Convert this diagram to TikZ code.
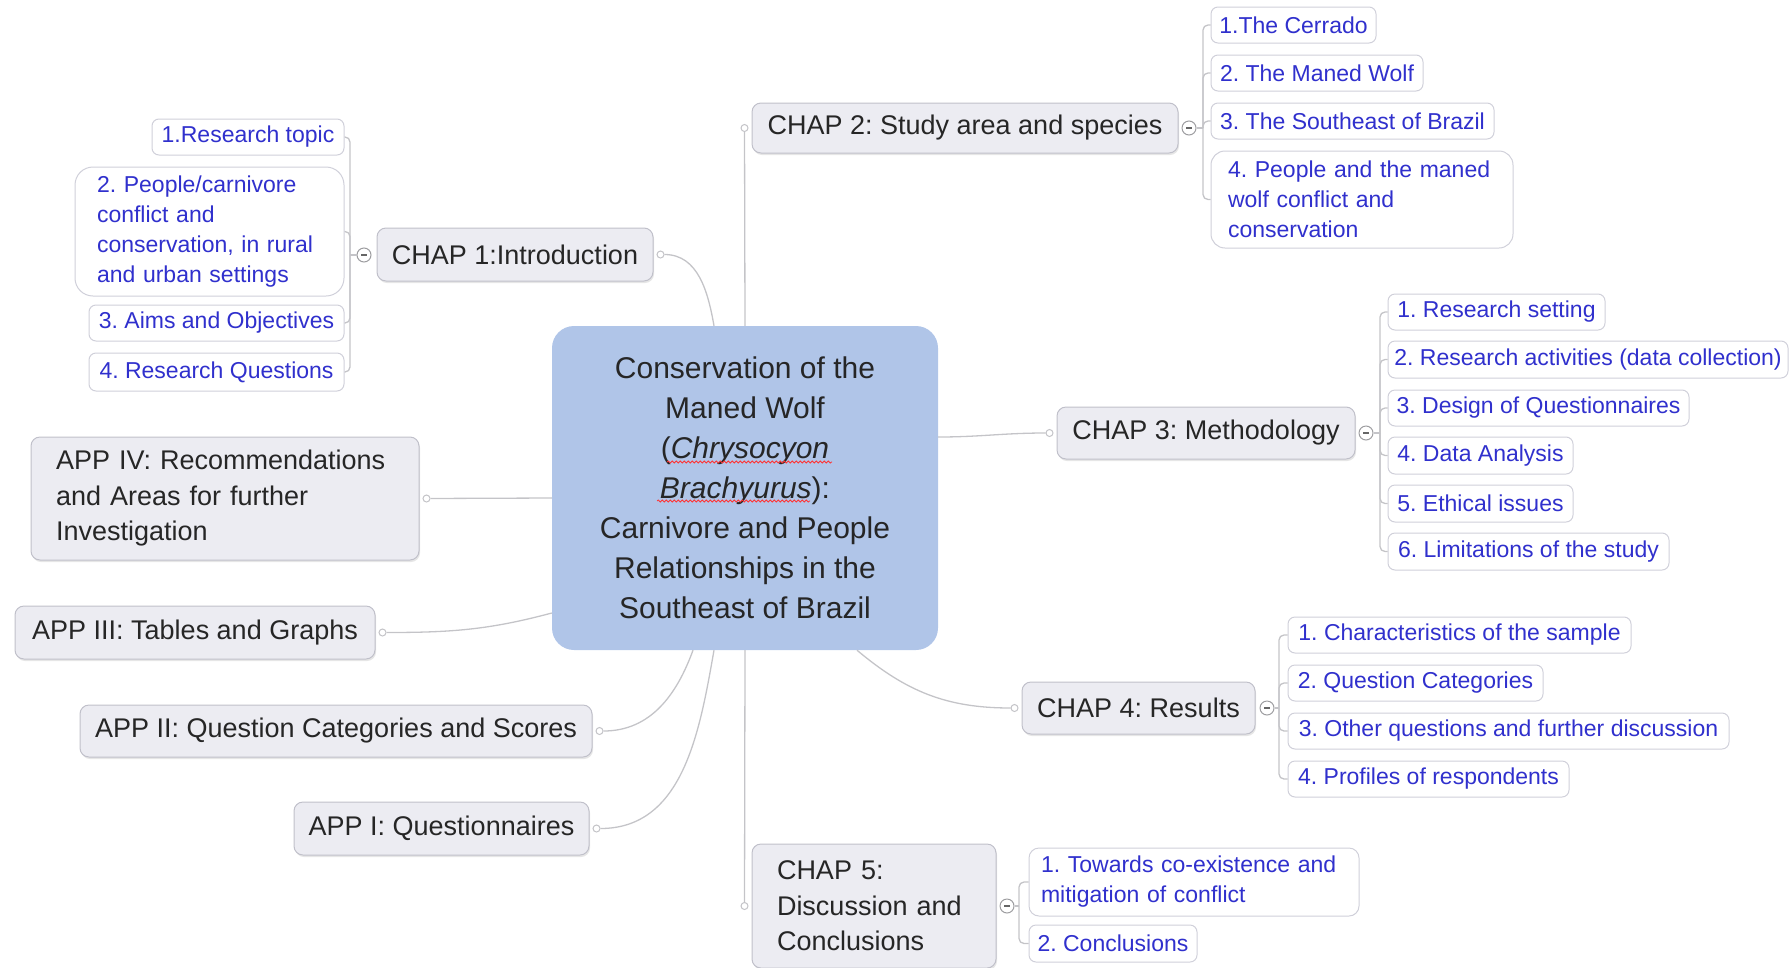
\documentclass[tikz,border=0pt]{standalone}
\usepackage{fontspec}
\setmainfont{Liberation Sans}
\usetikzlibrary{shadows,decorations.pathmorphing}
\frenchspacing

\definecolor{chapfill}{RGB}{236,236,242}
\definecolor{chapline}{RGB}{192,192,202}
\definecolor{rootfill}{RGB}{176,197,232}
\definecolor{subline}{RGB}{208,208,218}
\definecolor{subblue}{RGB}{48,48,205}
\definecolor{linkgrey}{RGB}{196,196,200}

\tikzset{
  root/.style={fill=rootfill, rounded corners=22pt, inner sep=0pt, align=center,
    font=\fontsize{30}{40}\selectfont, text=black!85},
  chap/.style={draw=chapline, fill=chapfill, rounded corners=9pt, inner sep=0pt, line width=1pt,
    font=\fontsize{27}{35.5}\selectfont, text=black!85,
    drop shadow={shadow xshift=1pt, shadow yshift=-2pt, opacity=0.2}},
  topic/.style={draw=subline, fill=white, rounded corners=7pt, inner sep=0pt, line width=1pt,
    font=\fontsize{23}{30}\selectfont, text=subblue},
  link/.style={draw=linkgrey, line width=1.3pt},
  knob/.style={circle, draw=linkgrey, fill=white, line width=1pt, inner sep=0pt, minimum size=7pt},
  fold/.style={circle, draw=linkgrey!80!black, fill=white, line width=1pt, inner sep=0pt,
    minimum size=14pt, text=black!60},
}
\newcommand\foldbar{\rule[-0.9pt]{6pt}{1.8pt}}

\begin{document}
\begin{tikzpicture}[x=1pt,y=1pt]
  \useasboundingbox (0,0) rectangle (1791,-967);

  % centre
  \node[root, minimum width=386pt, minimum height=324pt] (ctr) at (745,-488)
    {Conservation of the\\Maned Wolf\\(\textit{Chrysocyon}\\\textit{Brachyurus}):\\Carnivore and People\\Relationships in the\\Southeast of Brazil};
  \draw[red!80, line width=0.8pt, decorate, decoration={snake, amplitude=1pt, segment length=4pt}] (667,-462) -- (832,-462);
  \draw[red!80, line width=0.8pt, decorate, decoration={snake, amplitude=1pt, segment length=4pt}] (657,-501) -- (810,-501);

  % chapters
  \node[chap, minimum width=276pt, minimum height=53pt] (chap1) at (515,-254.5) {CHAP 1:Introduction};
  \node[chap, minimum width=426pt, minimum height=50pt] (chap2) at (965,-128) {CHAP 2: Study area and species};
  \node[chap, minimum width=298pt, minimum height=52pt] (chap3) at (1206,-433) {CHAP 3: Methodology};
  \node[chap, minimum width=233pt, minimum height=52pt] (chap4) at (1138.5,-708) {CHAP 4: Results};
  \node[chap, minimum height=124pt, text width=194pt, align=left, inner xsep=25pt] (chap5) at (874,-906)
    {CHAP 5:\\Discussion and\\Conclusions};

  % appendices
  \node[chap, minimum height=123pt, text width=338pt, align=left, inner xsep=25pt] (app4) at (225,-498.5)
    {APP IV: Recommendations\\and Areas for further\\Investigation};
  \node[chap, minimum width=360pt, minimum height=53pt] (app3) at (195,-632.5) {APP III: Tables and Graphs};
  \node[chap, minimum width=512pt, minimum height=52pt] (app2) at (336,-731) {APP II: Question Categories and Scores};
  \node[chap, minimum width=295pt, minimum height=53pt] (app1) at (441.5,-828.5) {APP I: Questionnaires};

  % chapter 1 topics
  \node[topic, minimum width=192pt, minimum height=36pt] (s11) at (248,-137) {1.Research topic};
  \node[topic, rounded corners=18pt, minimum height=129pt, text width=225pt, align=left, inner xsep=22pt] (s12) at (209.5,-231.5)
    {2. People/carnivore\\conflict and\\conservation, in rural\\and urban settings};
  \node[topic, minimum width=255pt, minimum height=36pt] (s13) at (216.5,-323) {3. Aims and Objectives};
  \node[topic, minimum width=255pt, minimum height=38pt] (s14) at (216.5,-372) {4. Research Questions};

  % chapter 2 topics
  \node[topic, minimum width=165pt, minimum height=36pt] (s21) at (1293.5,-25) {1.The Cerrado};
  \node[topic, minimum width=212pt, minimum height=36pt] (s22) at (1317,-73) {2. The Maned Wolf};
  \node[topic, minimum width=283pt, minimum height=36pt] (s23) at (1352.5,-121) {3. The Southeast of Brazil};
  \node[topic, rounded corners=14pt, minimum height=97pt, text width=268pt, align=left, inner xsep=17pt] (s24) at (1362,-199.5)
    {4. People and the maned\\wolf conflict and\\conservation};

  % chapter 3 topics
  \node[topic, minimum width=217pt, minimum height=36pt] (s31) at (1496.5,-312) {1. Research setting};
  \node[topic, minimum width=400pt, minimum height=37pt] (s32) at (1588,-359.5) {2. Research activities (data collection)};
  \node[topic, minimum width=301pt, minimum height=36pt] (s33) at (1538.5,-408) {3. Design of Questionnaires};
  \node[topic, minimum width=185pt, minimum height=37pt] (s34) at (1480.5,-455.5) {4. Data Analysis};
  \node[topic, minimum width=185pt, minimum height=37pt] (s35) at (1480.5,-503.5) {5. Ethical issues};
  \node[topic, minimum width=281pt, minimum height=37pt] (s36) at (1528.5,-551.5) {6. Limitations of the study};

  % chapter 4 topics
  \node[topic, minimum width=343pt, minimum height=36pt] (s41) at (1459.5,-635) {1. Characteristics of the sample};
  \node[topic, minimum width=255pt, minimum height=36pt] (s42) at (1415.5,-683) {2. Question Categories};
  \node[topic, minimum width=441pt, minimum height=36pt] (s43) at (1508.5,-731) {3. Other questions and further discussion};
  \node[topic, minimum width=281pt, minimum height=36pt] (s44) at (1428.5,-779) {4. Profiles of respondents};

  % chapter 5 topics
  \node[topic, rounded corners=10pt, minimum height=68pt, text width=306pt, align=left, inner xsep=12pt] (s51) at (1194,-882)
    {1. Towards co-existence and\\mitigation of conflict};
  \node[topic, minimum width=168pt, minimum height=37pt] (s52) at (1113,-943.5) {2. Conclusions};

  % fold buttons and brackets
  \node[fold] (f1) at (364,-255) {\foldbar};
  \node[fold] (f2) at (1189,-128) {\foldbar};
  \node[fold] (f3) at (1366,-433) {\foldbar};
  \node[fold] (f4) at (1267,-708) {\foldbar};
  \node[fold] (f5) at (1007,-906) {\foldbar};
  \coordinate (k1) at (350,-255);
  \coordinate (k2) at (1203,-128);
  \coordinate (k3) at (1380,-433);
  \coordinate (k4) at (1279,-708);
  \coordinate (k5) at (1019,-906);

  \draw[link] (f1) -- (k1);
  \foreach \s in {s11,s12,s13,s14}
    \draw[link, rounded corners=5pt] (k1) |- (\s.east);
  \draw[link] (f2) -- (k2);
  \foreach \s in {s21,s22,s23,s24}
    \draw[link, rounded corners=5pt] (k2) |- (\s.west);
  \draw[link] (f3) -- (k3);
  \foreach \s in {s31,s32,s33,s34,s35,s36}
    \draw[link, rounded corners=5pt] (k3) |- (\s.west);
  \draw[link] (f4) -- (k4);
  \foreach \s in {s41,s42,s43,s44}
    \draw[link, rounded corners=5pt] (k4) |- (\s.west);
  \draw[link] (f5) -- (k5);
  \foreach \s in {s51,s52}
    \draw[link, rounded corners=5pt] (k5) |- (\s.west);

  % knobs where the branches join
  \node[knob] (n1) at ([xshift=7pt]chap1.east) {};
  \node[knob] (n2) at ([xshift=-7pt]chap2.west) {};
  \node[knob] (n3) at ([xshift=-7pt]chap3.west) {};
  \node[knob] (n4) at ([xshift=-7pt]chap4.west) {};
  \node[knob] (n5) at ([xshift=-7pt]chap5.west) {};
  \node[knob] (a4) at ([xshift=7pt]app4.east) {};
  \node[knob] (a3) at ([xshift=7pt]app3.east) {};
  \node[knob] (a2) at ([xshift=7pt]app2.east) {};
  \node[knob] (a1) at ([xshift=7pt]app1.east) {};

  % branches from the centre
  \draw[link] (n1) to[out=0,in=100] ([xshift=-31pt]ctr.north);
  \draw[link] (ctr.north) -- (n2);
  \draw[link] ([yshift=51pt]ctr.east) to[out=0,in=180] (n3);
  \draw[link] ([xshift=112pt]ctr.south) to[out=-40,in=180] (n4);
  \draw[link] (ctr.south) -- (n5);
  \draw[link] ([yshift=-10pt]ctr.west) -- (a4);
  \draw[link] (a3) to[out=0,in=195] ([yshift=-125pt]ctr.west);
  \draw[link] (a2) to[out=0,in=-110] ([xshift=-52pt]ctr.south);
  \draw[link] (a1) to[out=0,in=-100] ([xshift=-31pt]ctr.south);
\end{tikzpicture}
\end{document}
